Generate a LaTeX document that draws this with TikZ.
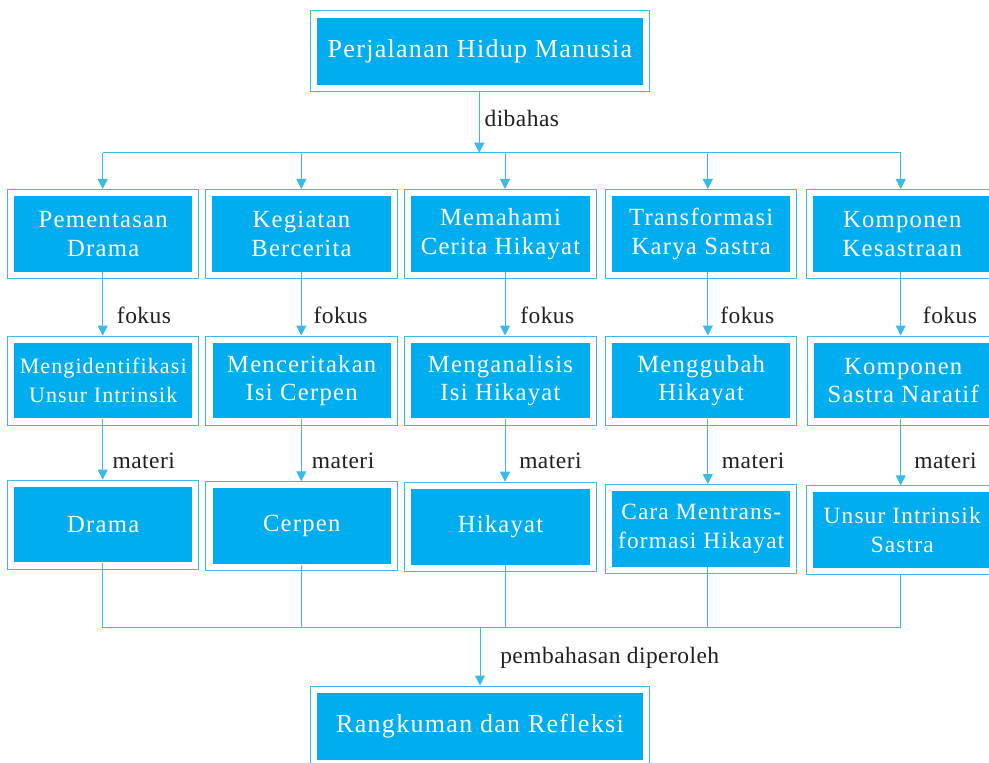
\documentclass[tikz,border=0pt]{standalone}
\usepackage{fontspec}
\setmainfont{Liberation Serif}
\newfontfamily\boxfont[LetterSpace=5]{Liberation Serif}
\newfontfamily\lblfont[LetterSpace=2]{Liberation Serif}
\usetikzlibrary{arrows.meta}

\definecolor{boxblue}{HTML}{00AEEF}
\definecolor{lineblue}{HTML}{3BB9EA}
\definecolor{lbltext}{HTML}{231F20}

\begin{document}
\begin{tikzpicture}[x=0.75pt,y=-0.75pt,
    bigbox/.style={draw=lineblue, line width=0.75pt, fill=white, text=white, align=center, inner sep=0pt,
        minimum width=143.6pt, minimum height=66.75pt, font=\boxfont\fontsize{18.5}{21.5}\selectfont,
        path picture={\fill[boxblue] ([shift={(4.9pt,4.9pt)}]path picture bounding box.south west)
            rectangle ([shift={(-4.9pt,-4.9pt)}]path picture bounding box.north east);}},
    widebox/.style={bigbox, minimum width=254pt, minimum height=60.75pt, font=\boxfont\fontsize{19.5}{22}\selectfont},
    smalltext/.style={font=\boxfont\fontsize{17.5}{21.5}\selectfont},
    lbl/.style={anchor=base west, inner sep=0pt, text=lbltext, font=\lblfont\fontsize{17.6}{20}\selectfont},
    link/.style={draw=lineblue, line width=0.75pt},
    arr/.style={link, -{Triangle[length=7.5pt,width=7.5pt]}}]

    \useasboundingbox (0,0) rectangle (989,763);

    \node[widebox] (judul) at (480,51.5) {Perjalanan Hidup Manusia};

    \node[bigbox] (k1) at (103.2,234) {Pementasan\\Drama};
    \node[bigbox] (k2) at (301.5,234) {Kegiatan\\Bercerita};
    \node[bigbox] (k3) at (500.5,234) {Memahami\\Cerita Hikayat};
    \node[bigbox] (k4) at (701.2,234) {Transformasi\\Karya Sastra};
    \node[bigbox] (k5) at (902.2,234) {Komponen\\Kesastraan};

    \node[bigbox, font=\boxfont\fontsize{16.5}{21.5}\selectfont] (f1) at (103.2,380.5) {Mengidentifikasi\\Unsur Intrinsik};
    \node[bigbox] (f2) at (301.7,380.5) {Menceritakan\\Isi Cerpen};
    \node[bigbox] (f3) at (500.5,380.5) {Menganalisis\\Isi Hikayat};
    \node[bigbox] (f4) at (701.2,380.5) {Menggubah\\Hikayat};
    \node[bigbox] (f5) at (903.2,380.5) {Komponen\\Sastra Naratif};

    \node[bigbox] (m1) at (103.2,524.5) {Drama};
    \node[bigbox] (m2) at (301.7,526.3) {Cerpen};
    \node[bigbox] (m3) at (500.5,526.7) {Hikayat};
    \node[bigbox, smalltext] (m4) at (701.2,529) {Cara Mentrans-\\formasi Hikayat};
    \node[bigbox, smalltext] (m5) at (902.2,530.3) {Unsur Intrinsik\\Sastra};

    \node[widebox] (rangkuman) at (480,726.5) {Rangkuman dan Refleksi};

    \coordinate (top) at (479.3,152.7);
    \coordinate (t1) at (102.7,152.7);
    \coordinate (t2) at (301.3,152.7);
    \coordinate (t3) at (505,152.7);
    \coordinate (t4) at (707.8,152.7);
    \coordinate (t5) at (900.7,152.7);
    \coordinate (bot) at (480,627.3);
    \coordinate (b1) at (102.7,627.3);
    \coordinate (b5) at (900.7,627.3);

    \draw[arr] (judul.south -| top) -- (top);
    \draw[link] (t1) -- (t5);
    \draw[arr] (t1) -- (t1 |- k1.north);
    \draw[arr] (t2) -- (t2 |- k2.north);
    \draw[arr] (t3) -- (t3 |- k3.north);
    \draw[arr] (t4) -- (t4 |- k4.north);
    \draw[arr] (t5) -- (t5 |- k5.north);

    \draw[arr, shorten <=-4.9pt] (t1 |- k1.south) -- (t1 |- f1.north);
    \draw[arr, shorten <=-4.9pt] (t2 |- k2.south) -- (t2 |- f2.north);
    \draw[arr, shorten <=-4.9pt] (t3 |- k3.south) -- (t3 |- f3.north);
    \draw[arr, shorten <=-4.9pt] (t4 |- k4.south) -- (t4 |- f4.north);
    \draw[arr, shorten <=-4.9pt] (t5 |- k5.south) -- (t5 |- f5.north);

    \draw[arr, shorten <=-4.9pt] (t1 |- f1.south) -- (t1 |- m1.north);
    \draw[arr, shorten <=-4.9pt] (t2 |- f2.south) -- (t2 |- m2.north);
    \draw[arr, shorten <=-4.9pt] (t3 |- f3.south) -- (t3 |- m3.north);
    \draw[arr, shorten <=-4.9pt] (t4 |- f4.south) -- (t4 |- m4.north);
    \draw[arr, shorten <=-4.9pt] (t5 |- f5.south) -- (t5 |- m5.north);

    \draw[link, shorten <=-4.9pt] (t1 |- m1.south) -- (b1) -- (b5) -- (t5 |- m5.south);
    \draw[link, shorten <=-4.9pt] (t2 |- m2.south) -- (t2 |- bot);
    \draw[link, shorten <=-4.9pt] (t3 |- m3.south) -- (t3 |- bot);
    \draw[link, shorten <=-4.9pt] (t4 |- m4.south) -- (t4 |- bot);
    \draw[arr] (bot) -- (rangkuman.north -| bot);

    \node[lbl] (dibahas) at (484.3,126.7) {dibahas};
    \node[lbl] (fokus1) at (116.7,323.3) {fokus};
    \node[lbl] (fokus2) at (313.3,323.3) {fokus};
    \node[lbl] (fokus3) at (520,323.3) {fokus};
    \node[lbl] (fokus4) at (720,323.3) {fokus};
    \node[lbl] (fokus5) at (922.7,323.3) {fokus};
    \node[lbl] (materi1) at (112.3,468.3) {materi};
    \node[lbl] (materi2) at (311.7,468.3) {materi};
    \node[lbl] (materi3) at (519,468.3) {materi};
    \node[lbl] (materi4) at (721.7,468.3) {materi};
    \node[lbl] (materi5) at (914,468.3) {materi};
    \node[lbl] (diperoleh) at (500,663.3) {pembahasan diperoleh};
\end{tikzpicture}
\end{document}
